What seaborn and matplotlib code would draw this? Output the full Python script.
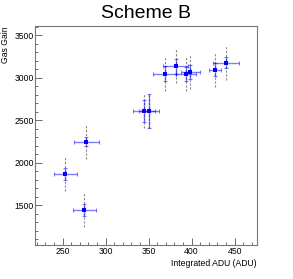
import matplotlib
matplotlib.use("Agg")
import matplotlib.pyplot as plt
from matplotlib.ticker import MultipleLocator
import seaborn as sns
import pandas as pd

# Data
adu = [253, 275.5, 277.8, 344.6, 350.8, 368.6, 381.3, 393.3, 398.7, 426.8, 440.4]
adu_err = [13.5, 13.7, 15, 13, 11.6, 13, 14.5, 12, 10.5, 7, 15]
gain = [1867, 1438, 2247, 2606, 2606, 3047, 3133, 3039, 3062, 3094, 3176]
gain_stat = [70, 70, 55, 130, 205, 85, 88, 85, 85, 80, 60]
gain_sys = [198, 200, 200, 200, 200, 200, 200, 200, 200, 200, 200]

df = pd.DataFrame({"adu": adu, "gain": gain})

sns.set_style("white")
plt.rcParams["font.family"] = ["Liberation Sans", "DejaVu Sans"]
plt.rcParams["text.color"] = "black"
plt.rcParams["axes.labelcolor"] = "black"

fig = plt.figure(figsize=(2.93, 2.79), dpi=100)
ax = fig.add_axes([35 / 293, 1 - 245 / 279, 222 / 293, 219 / 279])

# systematic (grey dashed) and statistical (blue) errors
eb = ax.errorbar(adu, gain, yerr=gain_sys, fmt="none", ecolor="#888888",
                 elinewidth=0.8, capsize=0, zorder=1)
eb[2][0].set_linestyle((0, (2, 1.5)))
ax.errorbar(adu, gain, xerr=adu_err, yerr=gain_stat, fmt="none",
            ecolor=(0, 0, 1, 0.5), elinewidth=1.0, capsize=1.2, capthick=0.8, zorder=2)
sns.scatterplot(data=df, x="adu", y="gain", ax=ax, marker="s", s=6,
                color="blue", edgecolor="blue", linewidth=0, zorder=3)

ax.set_xlim(218, 476)
ax.set_ylim(1030, 3606)
ax.xaxis.set_major_locator(MultipleLocator(50))
ax.xaxis.set_minor_locator(MultipleLocator(10))
ax.yaxis.set_major_locator(MultipleLocator(500))
ax.yaxis.set_minor_locator(MultipleLocator(100))
ax.tick_params(which="both", direction="in", colors="#555555", labelcolor="black",
               labelsize=6.2, width=0.6, bottom=True, left=True, top=False, right=False)
ax.tick_params(axis="x", which="both", pad=1.5)
ax.tick_params(axis="y", which="both", pad=0.8)
ax.tick_params(which="major", length=5)
ax.tick_params(which="minor", length=2.5)
for s in ax.spines.values():
    s.set_color("#777777")
    s.set_linewidth(0.8)

ax.set_xlabel("Integrated ADU (ADU)", fontsize=6.2, loc="right", labelpad=2)
ax.set_ylabel("Gas Gain", fontsize=6.2, loc="top", labelpad=3)
fig.text(146 / 293, 1 - 14 / 279, "Scheme B", fontsize=14, ha="center", va="center",
         color="black")

fig.savefig("out.png", dpi=100)
